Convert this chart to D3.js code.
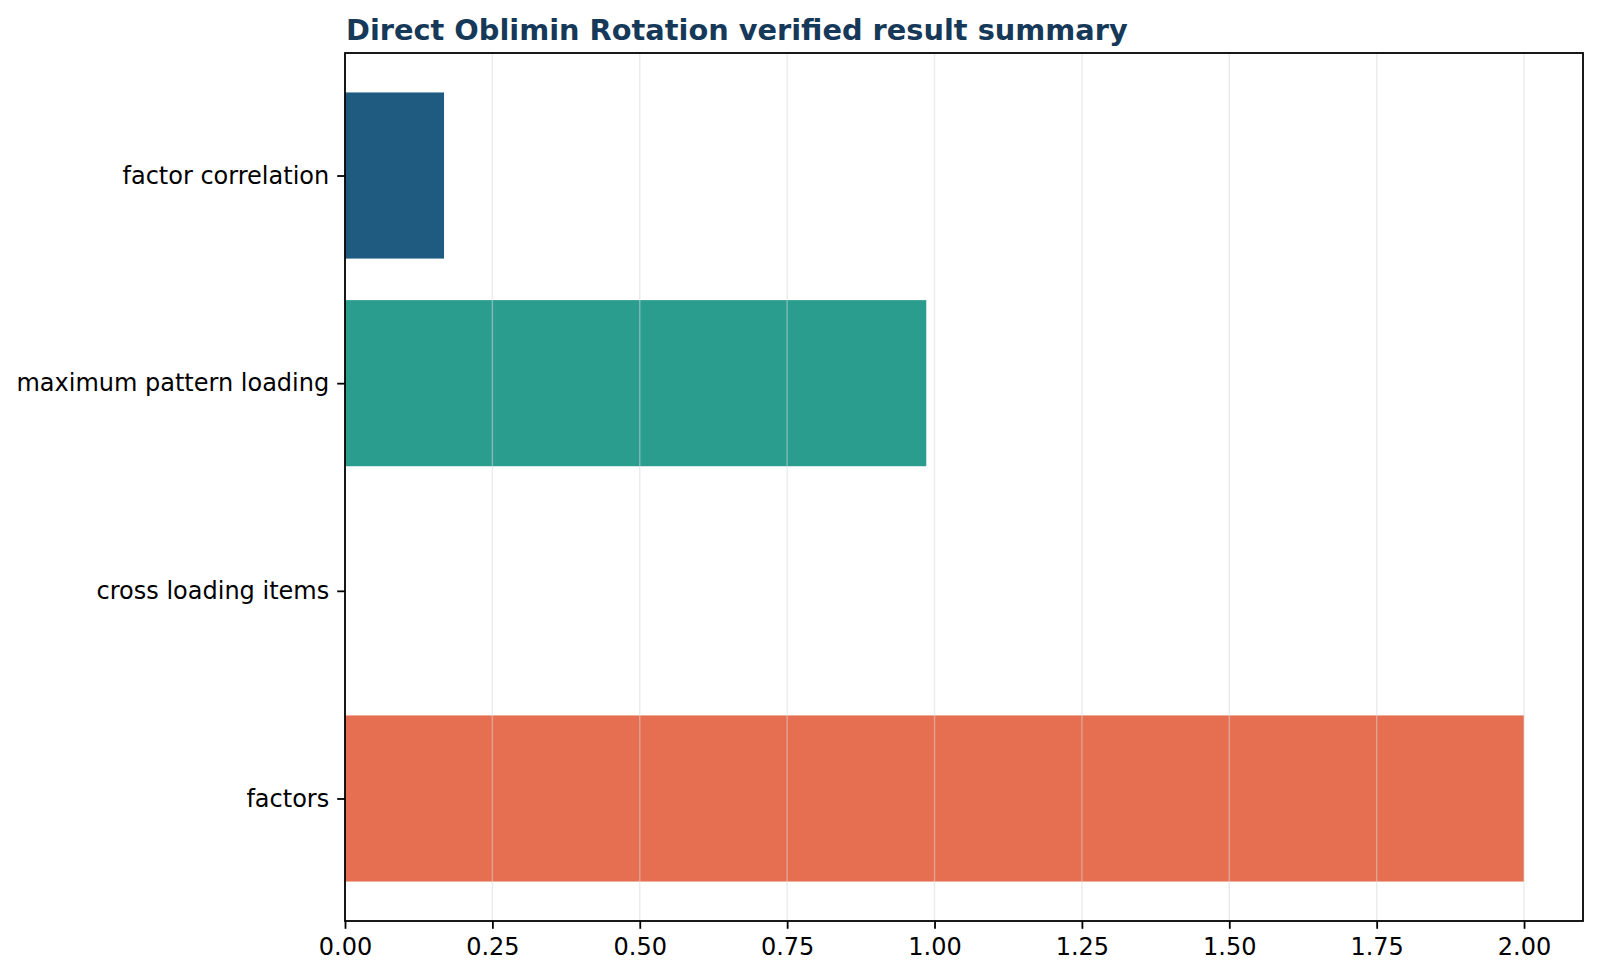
<!DOCTYPE html>
<html>
<head>
<meta charset="utf-8">
<script src="https://cdn.jsdelivr.net/npm/d3@7"></script>
<style>
  body { margin: 0; background: #fff; }
  svg { display: block; font-family: "DejaVu Sans", sans-serif; }
</style>
</head>
<body>
<div class="chart"></div>
<script>
// data, bottom to top like the original barh
const categories = ["factors", "cross loading items", "maximum pattern loading", "factor correlation"];
const values = [2.0, 0.0, 0.986, 0.168];
const colors = ["#e76f51", "#e9c46a", "#2a9d8f", "#1f5a80"];
const xTicks = [0, 0.25, 0.5, 0.75, 1.0, 1.25, 1.5, 1.75, 2.0];
const title = "Direct Oblimin Rotation verified result summary";

let margin = { top: 53, right: 17, bottom: 57, left: 345 },
  W = 1600,
  H = 978,
  width = W - margin.left - margin.right,
  height = H - margin.top - margin.bottom;

let svg = d3
  .select(".chart")
  .append("svg")
  .attr("width", W)
  .attr("height", H)
  .append("g")
  .attr("transform", "translate(" + margin.left + "," + margin.top + ")");

// scales (matplotlib style 5% margins)
let x = d3.scaleLinear().domain([0, 2.1]).range([0, width]);
let y = d3.scaleLinear().domain([-0.59, categories.length - 1 + 0.59]).range([height, 0]);
const barH = 0.8;

// bars
svg
  .selectAll(".bar")
  .data(values)
  .enter()
  .append("rect")
  .attr("class", "bar")
  .attr("x", x(0))
  .attr("y", (d, i) => y(i + barH / 2))
  .attr("width", (d) => x(d) - x(0))
  .attr("height", (d, i) => y(i - barH / 2) - y(i + barH / 2))
  .attr("fill", (d, i) => colors[i]);

// vertical grid, above the bars like matplotlib
svg
  .selectAll(".grid")
  .data(xTicks)
  .enter()
  .append("line")
  .attr("class", "grid")
  .attr("x1", (d) => x(d))
  .attr("x2", (d) => x(d))
  .attr("y1", 0)
  .attr("y2", height)
  .attr("stroke", "#d8d8d8")
  .attr("stroke-opacity", 0.5)
  .attr("stroke-width", 1.4);

// axes
const xAxis = d3
  .axisBottom(x)
  .tickValues(xTicks)
  .tickFormat(d3.format(".2f"))
  .tickSize(7.8)
  .tickPadding(9);

const yAxis = d3
  .axisLeft(y)
  .tickValues(d3.range(categories.length))
  .tickFormat((i) => categories[i])
  .tickSize(7.8)
  .tickPadding(8);

const xAxisGroup = svg
  .append("g")
  .attr("class", "axis x-axis")
  .attr("transform", "translate(0," + height + ")")
  .call(xAxis);

const yAxisGroup = svg.append("g").attr("class", "axis y-axis").call(yAxis);

[xAxisGroup, yAxisGroup].forEach((g) => {
  g.select(".domain").remove();
  g.selectAll(".tick line").attr("stroke", "#000").attr("stroke-width", 1.8);
  g.selectAll(".tick text")
    .attr("fill", "#000")
    .attr("font-size", 24)
    .attr("font-family", "DejaVu Sans, sans-serif");
});

// frame
svg
  .append("rect")
  .attr("x", 0)
  .attr("y", 0)
  .attr("width", width)
  .attr("height", height)
  .attr("fill", "none")
  .attr("stroke", "#000")
  .attr("stroke-width", 1.8);

// title
svg
  .append("text")
  .attr("x", 1)
  .attr("y", -13)
  .attr("text-anchor", "start")
  .attr("font-size", 28.8)
  .attr("font-weight", "bold")
  .attr("fill", "#16395a")
  .text(title);
</script>
</body>
</html>
